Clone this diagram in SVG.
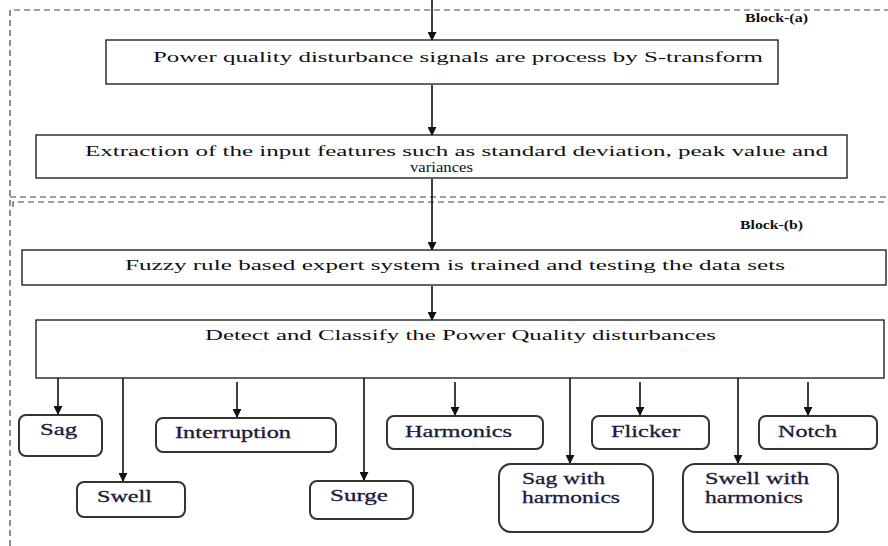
<svg xmlns="http://www.w3.org/2000/svg" width="888" height="546" viewBox="0 0 888 546">
<defs>
<marker id="ah" viewBox="0 0 10 10" refX="9" refY="5" markerWidth="9" markerHeight="9" markerUnits="userSpaceOnUse" orient="auto"><path d="M0,0 L10,5 L0,10 z" fill="#111"/></marker>
<style>
.box{fill:#fff;stroke:#111;stroke-width:1.3}
.node{fill:#fff;stroke:#333;stroke-width:2}
.t{font-family:'Liberation Serif','Times New Roman',serif;font-size:15.5px;fill:#111}
.n{font-family:'Liberation Serif','Times New Roman',serif;font-size:17px;fill:#1a1a3a;stroke:#1a1a3a;stroke-width:0.3}
.b{font-family:'Liberation Serif','Times New Roman',serif;font-size:13px;font-weight:bold;fill:#111}
.dash{fill:none;stroke:#444;stroke-width:1.2;stroke-dasharray:6 4}
.c{fill:none;stroke:#111;stroke-width:1.6;marker-end:url(#ah)}
</style>
</defs>
<rect width="888" height="546" fill="#fff"/>
<g id="blocks">
<path class="dash" d="M10,546 V10 H888"/>
<path class="dash" d="M10,197 H888"/>
<path class="dash" d="M13,207 V202 H888"/>
<text class="b" x="745" y="22" textLength="63" lengthAdjust="spacingAndGlyphs">Block-(a)</text>
<text class="b" x="740" y="229" textLength="63" lengthAdjust="spacingAndGlyphs">Block-(b)</text>
</g>
<g id="connectors">
<path class="c" d="M432,0 V40"/>
<path class="c" d="M432,85 V135"/>
<path class="c" d="M432,179 V250"/>
<path class="c" d="M432,286 V320"/>
<path class="c" d="M58,378 V414"/>
<path class="c" d="M123,378 V481"/>
<path class="c" d="M237,382 V417"/>
<path class="c" d="M364,378 V480"/>
<path class="c" d="M455,382 V415"/>
<path class="c" d="M570,378 V463"/>
<path class="c" d="M640,382 V415"/>
<path class="c" d="M738,378 V463"/>
<path class="c" d="M808,382 V415"/>
</g>
<g id="box1">
<rect class="box" x="106" y="40" width="672" height="44"/>
<text class="t" x="153" y="62" textLength="610" lengthAdjust="spacingAndGlyphs">Power quality disturbance signals are process  by S-transform</text>
</g>
<g id="box2">
<rect class="box" x="36" y="135" width="811" height="43"/>
<text class="t" x="85" y="156" textLength="743" lengthAdjust="spacingAndGlyphs">Extraction of the input features  such as standard deviation, peak value and</text>
<text class="t" x="410" y="172" textLength="63" lengthAdjust="spacingAndGlyphs">variances</text>
</g>
<g id="box3">
<rect class="box" x="22" y="250" width="864" height="35"/>
<text class="t" x="125" y="270" textLength="660" lengthAdjust="spacingAndGlyphs">Fuzzy rule based expert system is trained and testing the data sets</text>
</g>
<g id="box4">
<rect class="box" x="36" y="320" width="848" height="58"/>
<text class="t" x="205" y="340" textLength="511" lengthAdjust="spacingAndGlyphs">Detect and Classify the Power Quality disturbances</text>
</g>
<g id="sag">
<rect class="node" x="19" y="415" width="83" height="41" rx="7"/>
<text class="n" x="40" y="435" textLength="37" lengthAdjust="spacingAndGlyphs">Sag</text>
</g>
<g id="swell">
<rect class="node" x="77" y="482" width="108" height="35" rx="7"/>
<text class="n" x="97" y="502" textLength="55" lengthAdjust="spacingAndGlyphs">Swell</text>
</g>
<g id="interruption">
<rect class="node" x="156" y="418" width="180" height="34" rx="7"/>
<text class="n" x="175" y="438" textLength="116" lengthAdjust="spacingAndGlyphs">Interruption</text>
</g>
<g id="surge">
<rect class="node" x="310" y="481" width="103" height="38" rx="7"/>
<text class="n" x="330" y="501" textLength="58" lengthAdjust="spacingAndGlyphs">Surge</text>
</g>
<g id="harmonics">
<rect class="node" x="387" y="416" width="156" height="33" rx="7"/>
<text class="n" x="405" y="437" textLength="107" lengthAdjust="spacingAndGlyphs">Harmonics</text>
</g>
<g id="sagharm">
<rect class="node" x="499" y="464" width="154" height="68" rx="12"/>
<text class="n" x="522" y="484" textLength="83" lengthAdjust="spacingAndGlyphs">Sag with</text>
<text class="n" x="522" y="503" textLength="98" lengthAdjust="spacingAndGlyphs">harmonics</text>
</g>
<g id="flicker">
<rect class="node" x="592" y="416" width="117" height="33" rx="7"/>
<text class="n" x="611" y="437" textLength="69" lengthAdjust="spacingAndGlyphs">Flicker</text>
</g>
<g id="swellharm">
<rect class="node" x="683" y="464" width="155" height="68" rx="12"/>
<text class="n" x="705" y="484" textLength="104" lengthAdjust="spacingAndGlyphs">Swell with</text>
<text class="n" x="705" y="503" textLength="98" lengthAdjust="spacingAndGlyphs">harmonics</text>
</g>
<g id="notch">
<rect class="node" x="759" y="416" width="118" height="33" rx="7"/>
<text class="n" x="778" y="437" textLength="59" lengthAdjust="spacingAndGlyphs">Notch</text>
</g>
</svg>
